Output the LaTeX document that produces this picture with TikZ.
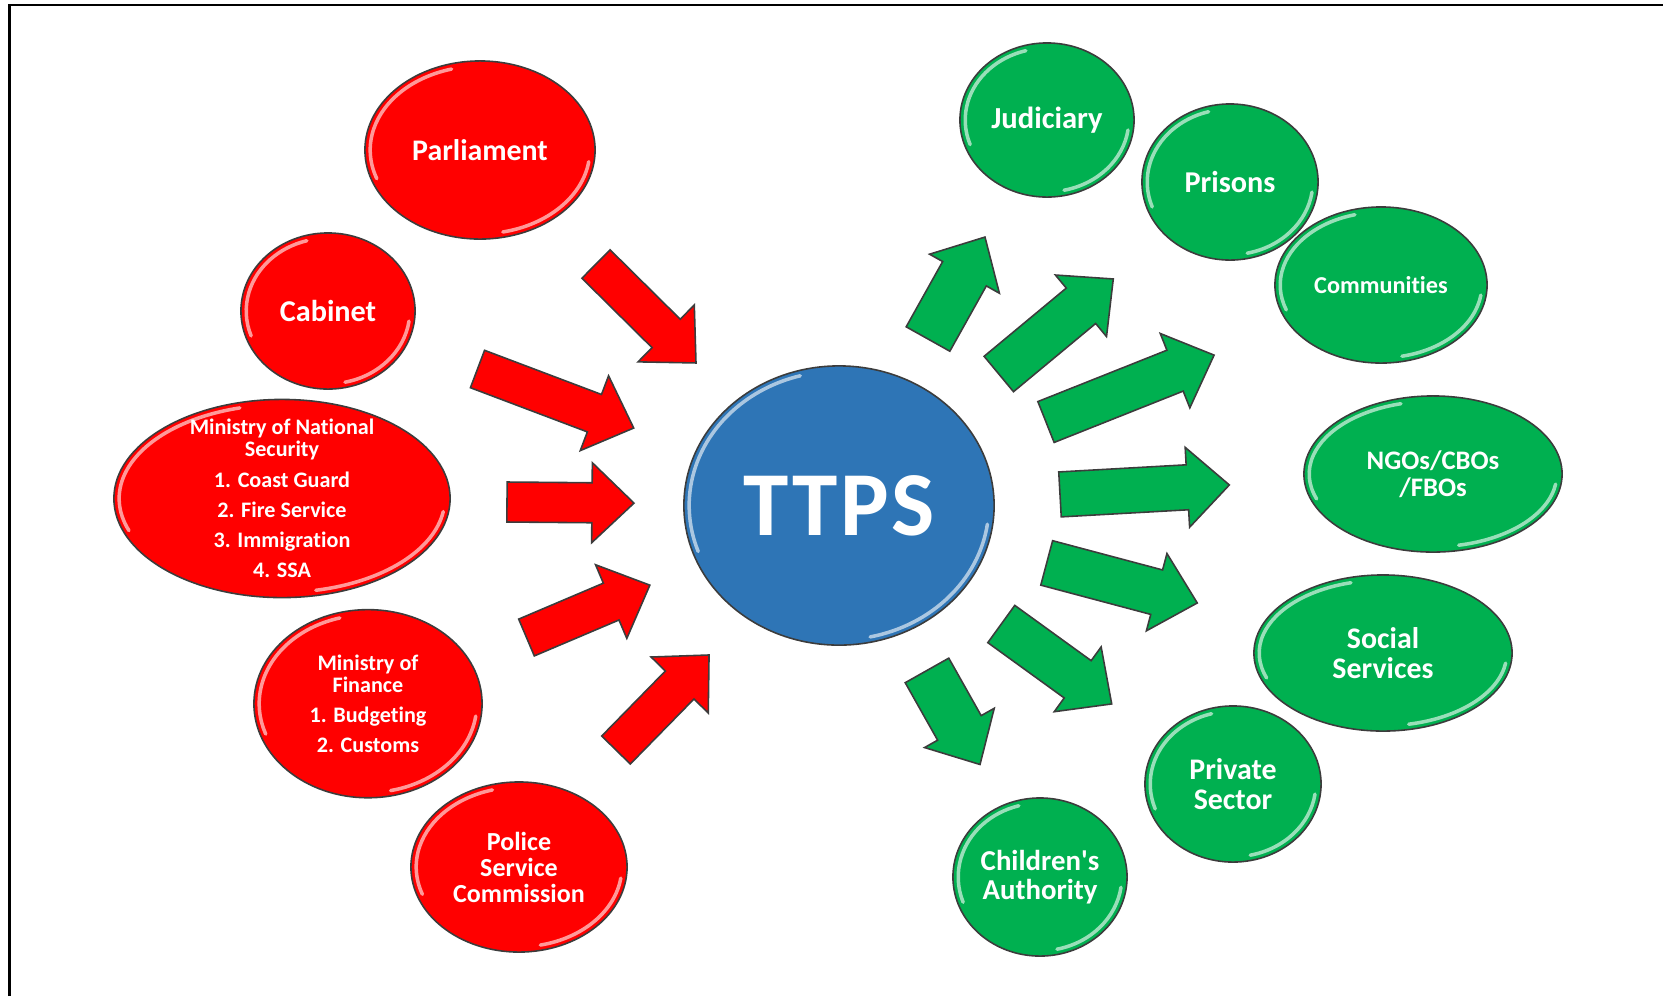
\documentclass[tikz,border=0pt]{standalone}
\usepackage{fontspec}
\setmainfont{Carlito}[Ligatures={TeX,NoCommon}]
\newfontfamily\hubfont{Carlito}[LetterSpace=3]
\usetikzlibrary{shapes.geometric,calc}
\definecolor{govred}{RGB}{255,0,0}
\definecolor{partnergreen}{RGB}{0,176,80}
\definecolor{ttpsblue}{RGB}{46,117,182}
\definecolor{rimgrey}{RGB}{60,60,60}

\tikzset{
  gloss/.style={path picture={
    \draw[white, opacity=.6, line width=1pt, line cap=round]
      let \p1=($(path picture bounding box.north east)-(path picture bounding box.center)$),
          \n1={\x1-1.5pt}, \n2={\y1-1.5pt} in
      ($(path picture bounding box.center)+(105:{\n1*1pt} and {\n2*1pt})$)
        arc[start angle=105, end angle=200, x radius=\n1*1pt, y radius=\n2*1pt]
      ($(path picture bounding box.center)+(-78:{\n1*1pt} and {\n2*1pt})$)
        arc[start angle=-78, end angle=-8, x radius=\n1*1pt, y radius=\n2*1pt];
  }},
  ball/.style 2 args={ellipse, draw=rimgrey, line width=.45pt, inner sep=0pt,
    minimum width=#1*0.02cm, minimum height=#2*0.02cm, gloss},
  balltext/.style={text=white, align=center, font=\fontsize{#1}{#1}\selectfont\bfseries},
  arrowbody/.style={draw=rimgrey, line width=.45pt, line join=miter}
}

% block arrow: [half shaft width], fill, tail, direction, length
\newcommand{\blockarrow}[5][20]{%
  \draw[arrowbody, fill=#2, shift={#3}, rotate=#4]
    (0,-#1) -- (#5-42,-#1) -- (#5-42,-40) -- (#5,0)
    -- (#5-42,40) -- (#5-42,#1) -- (0,#1) -- cycle;}

\begin{document}
\begin{tikzpicture}[x=0.01cm, y=-0.01cm]
\useasboundingbox (0,0) rectangle (1663,996);
\draw[line width=.75pt] (9.5,996) -- (9.5,5) -- (1663,5);

% bodies feeding in
\node[ball={115}{89}, fill=govred] (parl) at (480,150) {};
\node[ball={87}{78}, fill=govred] (cab) at (328,311) {};
\node[ball={168}{99}, fill=govred] (mns) at (282,498.5) {};
\node[ball={114}{94}, fill=govred] (mof) at (368,703.7) {};
\node[ball={108}{85}, fill=govred] (psc) at (519,867) {};

\node[balltext=8.5] (parl-t) at (parl) {Parliament};
\node[balltext=8.6] (cab-t) at (cab) {Cabinet};
\node[balltext=6.3] (mns-t) at (mns) {Ministry of National\\Security\\[2.3pt]
  1. Coast Guard\\[2.3pt]2. Fire Service\\[2.3pt]3. Immigration\\[2.3pt]4. SSA};
\node[balltext=6.3] (mof-t) at (mof) {Ministry of\\Finance\\[2.3pt]1. Budgeting\\[2.3pt]2. Customs};
\node[balltext=7.4] (psc-t) at (psc) {Police\\Service\\Commission};

% centre
\node[ball={155}{139.5}, fill=ttpsblue] (ttps) at (839,505.5) {};
\node[text=white, font=\fontsize{26}{26}\selectfont\hubfont\bfseries] (ttps-t) at (ttps) {TTPS};

% partners served
\node[ball={87}{77}, fill=partnergreen] (jud) at (1047,120) {};
\node[ball={88}{78}, fill=partnergreen] (pris) at (1230,182) {};
\node[ball={106}{78}, fill=partnergreen] (comm) at (1381,285) {};
\node[ball={129}{78}, fill=partnergreen] (ngo) at (1433,474) {};
\node[ball={129}{78}, fill=partnergreen] (soc) at (1383,653) {};
\node[ball={88}{78}, fill=partnergreen] (priv) at (1233,784) {};
\node[ball={87}{79}, fill=partnergreen] (child) at (1040,877) {};

\node[balltext=8.7] (jud-t) at (jud) {Judiciary};
\node[balltext=8.6] (pris-t) at (pris) {Prisons};
\node[balltext=6.9] (comm-t) at (comm) {Communities};
\node[balltext=7.6] (ngo-t) at (ngo) {NGOs/CBOs\\/FBOs};
\node[balltext=8.5] (soc-t) at (soc) {Social\\Services};
\node[balltext=8.5] (priv-t) at (priv) {Private\\Sector};
\node[balltext=8.2] (child-t) at (child) {Children\textquotesingle s\\Authority};

% arrows in
\blockarrow{govred}{(596,264)}{-44.7}{140.7}
\blockarrow{govred}{(477.5,369)}{-20.7}{167}
\blockarrow{govred}{(507,502)}{-0.5}{127}
\blockarrow{govred}{(526.5,637.5)}{23}{134}
\blockarrow{govred}{(616,750)}{45.6}{133}

% arrows out
\blockarrow[25]{partnergreen}{(928,339)}{60.8}{116.8}
\blockarrow[23]{partnergreen}{(998.8,374)}{39.7}{148.8}
\blockarrow[22]{partnergreen}{(1046,422)}{21.7}{180.9}
\blockarrow[22.5]{partnergreen}{(1060,494.4)}{3.2}{169.6}
\blockarrow[23]{partnergreen}{(1046.7,562.9)}{-14.9}{155.8}
\blockarrow[23]{partnergreen}{(1001.3,624)}{-35.9}{136.3}
\blockarrow[25]{partnergreen}{(927,670.4)}{-60.6}{108}
\end{tikzpicture}
\end{document}
